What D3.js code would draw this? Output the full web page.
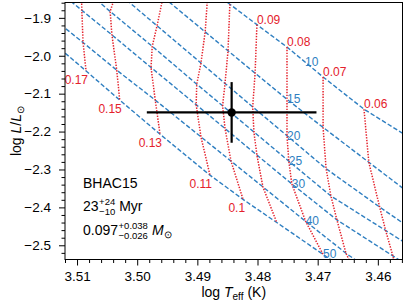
<!DOCTYPE html>
<html>
<head>
<meta charset="utf-8">
<script src="https://cdn.jsdelivr.net/npm/d3@7"></script>
<style>
  body { margin: 0; background: #fff; }
  svg text { font-family: "Liberation Sans", Arial, Helvetica, sans-serif; }
</style>
</head>
<body>
<svg id="chart" width="407" height="305"></svg>
<script>
// BHAC15 grid: one row per mass, one column per age (Myr)
var ages = [10, 15, 20, 25, 30, 40, 50];
var masses = [0.17, 0.15, 0.13, 0.11, 0.1, 0.09, 0.08, 0.07, 0.06];
var logTeff = [
  [3.5095, 3.5095, 3.5093, 3.5093, 3.5092, 3.5090, 3.5085],
  [3.5025, 3.5029, 3.5034, 3.5045, 3.5042, 3.5034, 3.5029],
  [3.4949, 3.4957, 3.4967, 3.4975, 3.4977, 3.4970, 3.4962],
  [3.4882, 3.4887, 3.4894, 3.4901, 3.4902, 3.4894, 3.4879],
  [3.4846, 3.4849, 3.4854, 3.4858, 3.4854, 3.4844, 3.4824],
  [3.4801, 3.4804, 3.4808, 3.4806, 3.4801, 3.4791, 3.4768],
  [3.4751, 3.4751, 3.4751, 3.4748, 3.4743, 3.4720, 3.4691],
  [3.4691, 3.4691, 3.4686, 3.4678, 3.4668, 3.4653, 3.4633],
  [3.4623, 3.4615, 3.4597, 3.4587, 3.4575, 3.4564, 3.4555]
];
var logLum = [
  [-1.567, -1.664, -1.751, -1.818, -1.880, -1.965, -2.040],
  [-1.651, -1.751, -1.831, -1.883, -1.945, -2.038, -2.117],
  [-1.742, -1.845, -1.921, -1.975, -2.031, -2.117, -2.207],
  [-1.821, -1.937, -2.019, -2.075, -2.129, -2.214, -2.315],
  [-1.864, -1.987, -2.073, -2.132, -2.192, -2.278, -2.379],
  [-1.918, -2.046, -2.135, -2.201, -2.262, -2.346, -2.440],
  [-1.977, -2.115, -2.211, -2.278, -2.338, -2.437, -2.524],
  [-2.056, -2.189, -2.298, -2.370, -2.433, -2.521, -2.588],
  [-2.141, -2.281, -2.399, -2.461, -2.528, -2.620, -2.672]
];
// isochrones continue past the outer tracks, out to the frame
var isoHotTeff = 3.5162;
var isoHotLum = [-1.490, -1.577, -1.659, -1.728, -1.789, -1.874, -1.936];
var isoCoolTeff = 3.4514;
var isoCoolLum = [-2.249, -2.403, -2.490, -2.534, -2.590, -2.699, -2.739];
// mass at which each isochrone carries its age label
var isoLabelMass = [0.075, 0.08, 0.08, 0.08, 0.08, 0.08, 0.08];

// the star
var starTeff = 3.4843, starTeffErr = 0.0141;
var starLum = -2.1495, starLumErr = 0.08;
var modelName = 'BHAC15';
var starAge = ['23', '+24', '\u221210'];
var starMass = ['0.097', '+0.038', '\u22120.026'];

var xTicks = [3.51, 3.50, 3.49, 3.48, 3.47, 3.46];
var yTicks = [-1.9, -2.0, -2.1, -2.2, -2.3, -2.4, -2.5];

var W = 407, H = 305;
var margin = { top: 2.5, right: 4.5, bottom: 45.5, left: 65 };
var RED = '#e4212b', BLUE = '#2f7fc1';

var svg = d3.select('#chart');

var x = d3.scaleLinear().domain([3.5120, 3.4559]).range([margin.left, W - margin.right]);
var y = d3.scaleLinear().domain([-1.8595, -2.5375]).range([margin.top, H - margin.bottom]);

svg.append('clipPath').attr('id', 'plot-clip')
  .append('rect')
  .attr('x', margin.left).attr('y', margin.top)
  .attr('width', W - margin.left - margin.right)
  .attr('height', H - margin.top - margin.bottom);

var line = d3.line()
  .x(function (d) { return x(d[0]); })
  .y(function (d) { return y(d[1]); });

//-------------------------------
// isochrones: same age across all masses
var isochrones = ages.map(function (age, j) {
  var pts = [[isoHotTeff, isoHotLum[j]]];
  masses.forEach(function (m, i) { pts.push([logTeff[i][j], logLum[i][j]]); });
  pts.push([isoCoolTeff, isoCoolLum[j]]);
  return pts;
});

// tracks: same mass across all ages
var tracks = masses.map(function (m, i) {
  return ages.map(function (age, j) { return [logTeff[i][j], logLum[i][j]]; });
});

var plot = svg.append('g').attr('clip-path', 'url(#plot-clip)');

plot.selectAll('.iso')
  .data(isochrones)
  .enter().append('path')
  .attr('class', 'iso')
  .attr('d', line)
  .attr('fill', 'none')
  .attr('stroke', BLUE)
  .attr('stroke-width', 1.4)
  .attr('stroke-dasharray', '4.5,2.2');

plot.selectAll('.track')
  .data(tracks)
  .enter().append('path')
  .attr('class', 'track')
  .attr('d', line)
  .attr('fill', 'none')
  .attr('stroke', RED)
  .attr('stroke-width', 1.5)
  .attr('stroke-dasharray', '1.4,1.4');

// mass labels: massive tracks labelled at their old end, light ones at their young end
masses.forEach(function (m, i) {
  var pts = tracks[i];
  var atEnd = m >= 0.1;
  var p = atEnd ? pts[pts.length - 1] : pts[0];
  svg.append('text')
    .attr('x', x(p[0]) + (atEnd ? 2 : 0))
    .attr('y', y(p[1]) + (atEnd ? 13 : -1))
    .attr('text-anchor', atEnd ? 'end' : 'start')
    .attr('fill', RED)
    .style('font-size', '12px')
    .text(String(m));
});

// age labels on the isochrones
ages.forEach(function (age, j) {
  var m = isoLabelMass[j];
  var i = masses.findIndex(function (v) { return v <= m; });
  var t = 0, i0 = i;
  if (masses[i] < m) { i0 = i - 1; t = (masses[i0] - m) / (masses[i0] - masses[i]); }
  var i1 = Math.min(i0 + 1, masses.length - 1);
  var te = logTeff[i0][j] + t * (logTeff[i1][j] - logTeff[i0][j]);
  var lu = logLum[i0][j] + t * (logLum[i1][j] - logLum[i0][j]);
  svg.append('text')
    .attr('x', x(te))
    .attr('y', y(lu) + 4)
    .attr('fill', BLUE)
    .style('font-size', '12px')
    .text(age);
});

//-------------------------------
// the star with its error bars
var star = svg.append('g');
star.append('line')
  .attr('x1', x(starTeff + starTeffErr)).attr('x2', x(starTeff - starTeffErr))
  .attr('y1', y(starLum)).attr('y2', y(starLum))
  .attr('stroke', '#000').attr('stroke-width', 2.2);
star.append('line')
  .attr('x1', x(starTeff)).attr('x2', x(starTeff))
  .attr('y1', y(starLum + starLumErr)).attr('y2', y(starLum - starLumErr))
  .attr('stroke', '#000').attr('stroke-width', 2.2);
star.append('circle')
  .attr('cx', x(starTeff)).attr('cy', y(starLum)).attr('r', 4.2)
  .attr('fill', '#000');

//-------------------------------
// axes
var xAxis = svg.append('g')
  .attr('transform', 'translate(0,' + (H - margin.bottom) + ')')
  .call(d3.axisBottom(x).tickValues(xTicks).tickFormat(d3.format('.2f'))
    .tickSize(6).tickPadding(6).tickSizeOuter(0));
svg.append('g')
  .attr('transform', 'translate(0,' + (H - margin.bottom) + ')')
  .call(d3.axisBottom(x)
    .tickValues(d3.range(3456, 3513, 2).filter(function (v) { return v % 10 !== 0; })
      .map(function (v) { return v / 1000; }))
    .tickFormat('').tickSize(3.5).tickSizeOuter(0));

var yAxis = svg.append('g')
  .attr('transform', 'translate(' + margin.left + ',0)')
  .call(d3.axisLeft(y).tickValues(yTicks).tickFormat(d3.format('.1f'))
    .tickSize(6).tickPadding(8).tickSizeOuter(0));
svg.append('g')
  .attr('transform', 'translate(' + margin.left + ',0)')
  .call(d3.axisLeft(y)
    .tickValues(d3.range(-252, -185, 2).filter(function (v) { return v % 10 !== 0; })
      .map(function (v) { return v / 100; }))
    .tickFormat('').tickSize(3.5).tickSizeOuter(0));

svg.selectAll('.domain').remove();
svg.selectAll('.tick line').attr('stroke', '#000').attr('stroke-width', 1);
svg.selectAll('.tick text').attr('fill', '#000').style('font-size', '13.5px');

svg.append('rect')
  .attr('x', margin.left).attr('y', margin.top)
  .attr('width', W - margin.left - margin.right)
  .attr('height', H - margin.top - margin.bottom)
  .attr('fill', 'none').attr('stroke', '#000').attr('stroke-width', 1);

// axis titles
var xt = svg.append('text')
  .attr('x', (margin.left + W - margin.right) / 2)
  .attr('y', 297)
  .attr('text-anchor', 'middle')
  .style('font-size', '14px');
xt.append('tspan').text('log ');
xt.append('tspan').style('font-style', 'italic').text('T');
xt.append('tspan').attr('dy', 3).style('font-size', '10px').text('eff');
xt.append('tspan').attr('dy', -3).text(' (K)');

var yt = svg.append('text')
  .attr('transform', 'translate(21,' + (margin.top + (H - margin.top - margin.bottom) / 2) + ') rotate(-90)')
  .attr('text-anchor', 'middle')
  .style('font-size', '14px');
yt.append('tspan').text('log ');
yt.append('tspan').style('font-style', 'italic').text('L');
yt.append('tspan').text('/');
yt.append('tspan').style('font-style', 'italic').text('L');
yt.append('tspan').attr('dy', 3).style('font-size', '10px').text('\u2299');

//-------------------------------
// model / age / mass block
var tx = 83;
svg.append('text').attr('x', tx).attr('y', 188).style('font-size', '14px').text(modelName);

function withScripts(base, sup, sub, yb, tail) {
  var main = svg.append('text').attr('x', tx).attr('y', yb).style('font-size', '14px').text(base);
  var x0 = tx + main.node().getComputedTextLength() + 0.5;
  var s1 = svg.append('text').attr('x', x0).attr('y', yb - 6).style('font-size', '9.5px').text(sup);
  var s2 = svg.append('text').attr('x', x0).attr('y', yb + 3.5).style('font-size', '9.5px').text(sub);
  var x1 = x0 + Math.max(s1.node().getComputedTextLength(), s2.node().getComputedTextLength()) + 4;
  tail(x1, yb);
}

withScripts(starAge[0], starAge[1], starAge[2], 211, function (x1, yb) {
  svg.append('text').attr('x', x1).attr('y', yb).style('font-size', '14px').text('Myr');
});
withScripts(starMass[0], starMass[1], starMass[2], 235, function (x1, yb) {
  var t = svg.append('text').attr('x', x1).attr('y', yb).style('font-size', '14px');
  t.append('tspan').style('font-style', 'italic').text('M');
  t.append('tspan').attr('dy', 3).style('font-size', '10px').text('\u2299');
});
</script>
</body>
</html>
